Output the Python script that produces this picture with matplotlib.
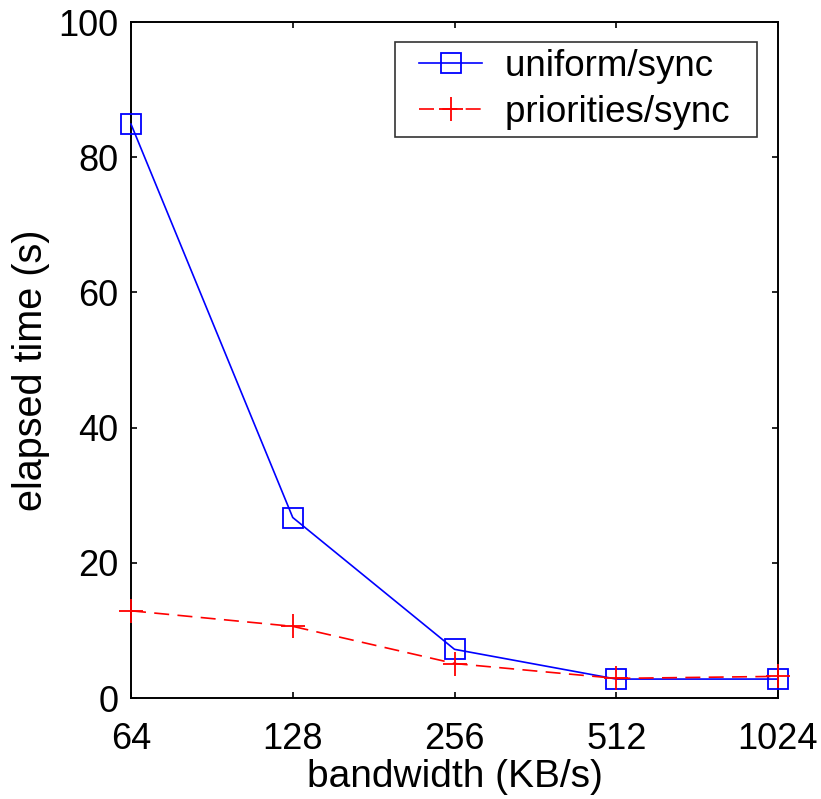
import matplotlib
matplotlib.use("Agg")
from matplotlib import pyplot as plt
from matplotlib.legend_handler import HandlerLine2D

bandwidth = [64, 128, 256, 512, 1024]
tick_labels = ["64", "128", "256", "512", "1024"]
uniform_sync = [84.9, 26.7, 7.2, 2.8, 2.8]
priorities_sync = [12.9, 10.6, 5.1, 2.9, 3.2]

plt.rcParams['font.family'] = ['Liberation Sans', 'DejaVu Sans']

fig = plt.figure(figsize=(8.21, 7.99), dpi=100)
ax = fig.add_axes([131 / 821, 1 - 698 / 799, 647 / 821, 676 / 799])

l1, = ax.plot(bandwidth, uniform_sync, color='#0000ff', linestyle='-', linewidth=1.2,
              marker='s', markersize=14, markerfacecolor='none', markeredgewidth=1.3,
              label='uniform/sync  ', clip_on=False, zorder=3)
l2, = ax.plot(bandwidth, priorities_sync, color='#ff0000', linestyle=(0, (9, 5)), linewidth=1.2,
              marker='+', markersize=17, markeredgewidth=1.3,
              label='priorities/sync  ', clip_on=False, zorder=3)

ax.set_xscale('log', base=2)
ax.set_xlim(64, 1024)
ax.set_ylim(0, 100)
ax.set_xticks(bandwidth)
ax.set_xticklabels(tick_labels)
ax.minorticks_off()
ax.set_yticks([0, 20, 40, 60, 80, 100])

ax.tick_params(direction='in', length=4.5, width=1.2, labelsize=26,
               top=True, right=True)
ax.tick_params(axis='x', pad=17)
ax.tick_params(axis='y', pad=9)
for s in ax.spines.values():
    s.set_linewidth(1.4)

ax.set_xlabel('bandwidth (KB/s)', fontsize=28, labelpad=2)
ax.set_ylabel('elapsed time (s)', fontsize=28.5, labelpad=6)
ax.yaxis.label.set_y(0.485)

# xpad pushes the line away from the frame edge like the original legend
hmap = {l1: HandlerLine2D(xpad=0.46), l2: HandlerLine2D(xpad=0.46)}
leg = ax.legend(loc='upper right', fontsize=26.5, frameon=True, fancybox=False,
                edgecolor='black', handlelength=2.17, handletextpad=0.62,
                borderpad=0.19, labelspacing=0.29, borderaxespad=0,
                bbox_to_anchor=(0.9675, 0.970), handler_map=hmap)
leg.get_frame().set_linewidth(1.2)

fig.savefig('out.png', dpi=100)
